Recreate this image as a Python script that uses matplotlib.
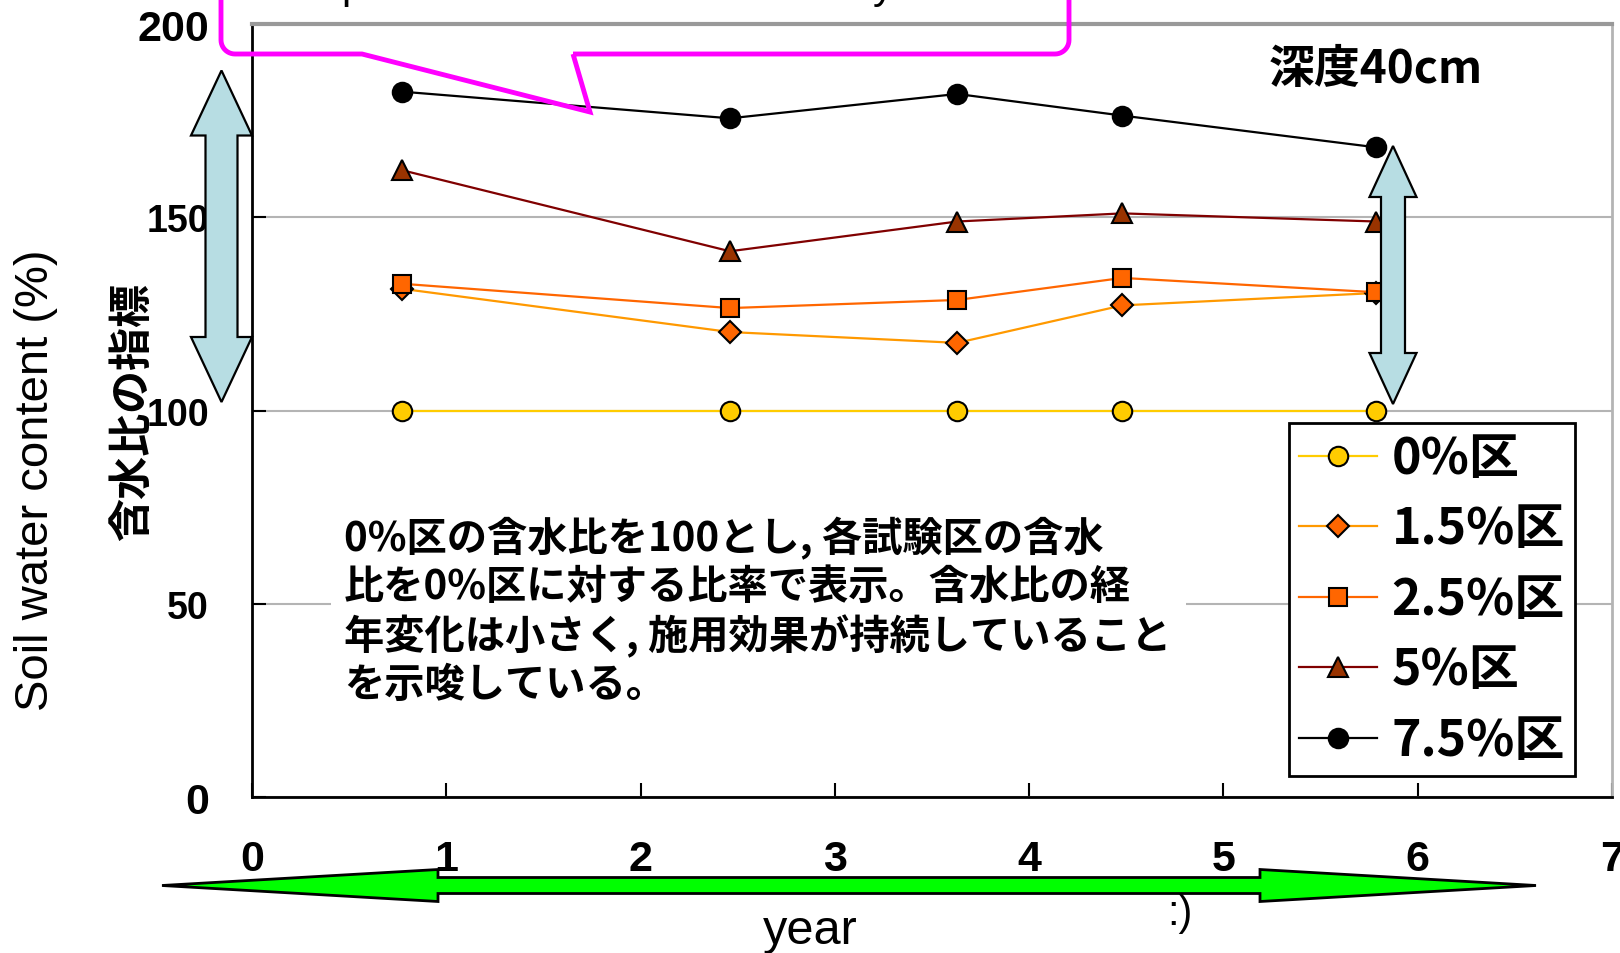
import numpy as np
import matplotlib
matplotlib.use('Agg')
import matplotlib.pyplot as plt
from matplotlib.patches import Polygon, Rectangle
from matplotlib.transforms import Affine2D
from matplotlib.font_manager import FontProperties

# ---- data: soil water content ratio (0% plot = 100) at 40 cm depth ----
years    = [0.77, 2.46, 3.63, 4.48, 5.785]
plot_0   = [100, 100, 100, 100, 100]
plot_15  = [131.5, 120.3, 117.5, 127.2, 130.4]
plot_25  = [132.8, 126.5, 128.6, 134.3, 130.6]
plot_5   = [162.2, 141.2, 148.9, 151.0, 148.9]
plot_75  = [182.5, 175.6, 181.9, 176.3, 168.1]
series   = [plot_0, plot_15, plot_25, plot_5, plot_75]
labels   = ['0%区', '1.5%区', '2.5%区', '5%区', '7.5%区']
x_ticks  = [0, 1, 2, 3, 4, 5, 6, 7]
y_ticks  = [0, 50, 100, 150, 200]
note     = ['0%区の含水比を100とし, 各試験区の含水',
            '比を0%区に対する比率で表示。含水比の経',
            '年変化は小さく, 施用効果が持続していること',
            'を示唆している。']

# ---- styles ----
line_colors = ['#FFCC00', '#FF9900', '#FF6600', '#800000', '#000000']
face_colors = ['#FFCC00', '#FF6600', '#FF6600', '#993300', '#000000']
markers     = ['o', 'D', 's', '^', 'o']
msizes      = [14, 11, 13, 14, 14]

JP = 'Noto Sans CJK JP'
NARROW = ['Liberation Sans Narrow', 'Liberation Sans', 'DejaVu Sans']
SANS = ['Liberation Sans', 'DejaVu Sans']
plt.rcParams['font.family'] = [JP, 'DejaVu Sans']

W, H = 1620, 954
fig = plt.figure(figsize=(W / 100, H / 100), dpi=100)
ax = fig.add_axes([252 / W, 1 - 798 / H, (1612 - 252) / W, (798 - 25) / H])
# pixel coordinates measured from the top-left corner of the figure
px = Affine2D().scale(1 / W, -1 / H).translate(0, 1) + fig.transFigure

for vals, lc, fc, mk, ms, lab in zip(series, line_colors, face_colors, markers, msizes, labels):
    ax.plot(years, vals, color=lc, lw=1.6, marker=mk, ms=ms, mfc=fc, mec='black',
            mew=1.5, label=lab, zorder=3, clip_on=False)

ax.set_xlim(0, 7)
ax.set_ylim(0, 200)
ax.set_xticks(x_ticks)
ax.set_yticks(y_ticks)
ax.yaxis.grid(True, color='#B4B4B4', lw=1.5)
ax.set_axisbelow(True)
for side in ['left', 'bottom']:
    ax.spines[side].set_linewidth(2)
ax.spines['top'].set_color('#999999')
ax.spines['top'].set_linewidth(3)
ax.spines['right'].set_color('#B4B4B4')
ax.spines['right'].set_linewidth(2)
ax.tick_params(axis='both', direction='in', length=10, width=1.5)
ax.tick_params(axis='x', pad=30)
ax.tick_params(axis='y', pad=31)
for t in ax.get_xticklabels():
    t.set_fontproperties(FontProperties(family=NARROW, weight='bold', size=31))
for t, v in zip(ax.get_yticklabels(), y_ticks):
    if v in (0, 200):
        t.set_fontproperties(FontProperties(family=NARROW, weight='bold', size=31))
    else:
        t.set_fontproperties(FontProperties(family=SANS, weight='bold', size=27))

leg = ax.legend(loc='upper left', bbox_to_anchor=(1289 / W, 1 - 424 / H),
                bbox_transform=fig.transFigure, borderaxespad=0,
                prop=FontProperties(family=JP, weight='bold', size=36),
                frameon=True, fancybox=False, framealpha=1, edgecolor='black',
                borderpad=0.2, handlelength=1.55, handletextpad=0.3, labelspacing=0.39)
leg.get_frame().set_linewidth(2)
leg.set_zorder(5)


def double_arrow(p0, p1, shaft_w, head_w, head_l):
    p0, p1 = np.array(p0, float), np.array(p1, float)
    u = (p1 - p0) / np.hypot(*(p1 - p0))
    n = np.array([-u[1], u[0]])
    a, b = p0 + u * head_l, p1 - u * head_l
    hs, hh = shaft_w / 2, head_w / 2
    return [p0, a + n * hh, a + n * hs, b + n * hs, b + n * hh,
            p1, b - n * hh, b - n * hs, a - n * hs, a - n * hh]


# light blue range arrows and green time arrow
for p0, p1, sw, hw, hl in [((221.5, 71.5), (221.5, 403), 32, 61, 65),
                           ((1393, 147), (1393, 405), 24, 47, 51)]:
    fig.add_artist(Polygon(double_arrow(p0, p1, sw, hw, hl), closed=True,
                           facecolor='#B7DDE3', edgecolor='black', lw=1.6,
                           transform=px, zorder=6))
fig.add_artist(Polygon(double_arrow((162, 886.5), (1536, 886.5), 16, 32, 276),
                       closed=True, facecolor='#00FF00', edgecolor='black', lw=2,
                       transform=px, zorder=6))

# magenta callout
r = 14
t = np.linspace(0, np.pi / 2, 12)
callout = ([(573, 55)]
           + [(1069 - r + r * np.sin(a), 55 - r + r * np.cos(a)) for a in t]
           + [(1069, -40), (221, -40)]
           + [(221 + r - r * np.cos(a), 55 - r + r * np.sin(a)) for a in t]
           + [(362, 55), (590, 113)])
fig.add_artist(Polygon(callout, closed=True, fill=False, edgecolor='#FF00FF',
                       lw=3.5, joinstyle='miter', transform=px, zorder=7))
fig.text(341, -2, 'p', transform=px, fontsize=30, family=SANS, va='baseline')
fig.text(873, -2, 'y', transform=px, fontsize=30, family=SANS, va='baseline')

# note text with white backing
fig.add_artist(Rectangle((331, 508), 855, 205, facecolor='white', edgecolor='none',
                         transform=px, zorder=2))
for i, line in enumerate(note):
    fig.text(344, 539 + 48.7 * i, line, transform=px, fontsize=29, weight='bold',
             family=JP, va='center', ha='left', zorder=3)

fig.text(1376, 70, '深度40cm', transform=px, fontsize=33, weight='bold',
         family=JP, va='center', ha='center', zorder=3)
fig.text(132, 412, '含水比の指標', transform=px, fontsize=31, weight='bold',
         family=JP, rotation=90, va='center', ha='center', zorder=3)
fig.text(36, 480, 'Soil water content (%)', transform=px, fontsize=34,
         family=SANS, rotation=90, va='center', ha='center')
fig.text(810, 944, 'year', transform=px, fontsize=35, family=SANS,
         va='baseline', ha='center')
fig.text(1180, 914, ':)', transform=px, fontsize=30, family=NARROW,
         va='center', ha='center')

fig.savefig('out.png', dpi=100)
